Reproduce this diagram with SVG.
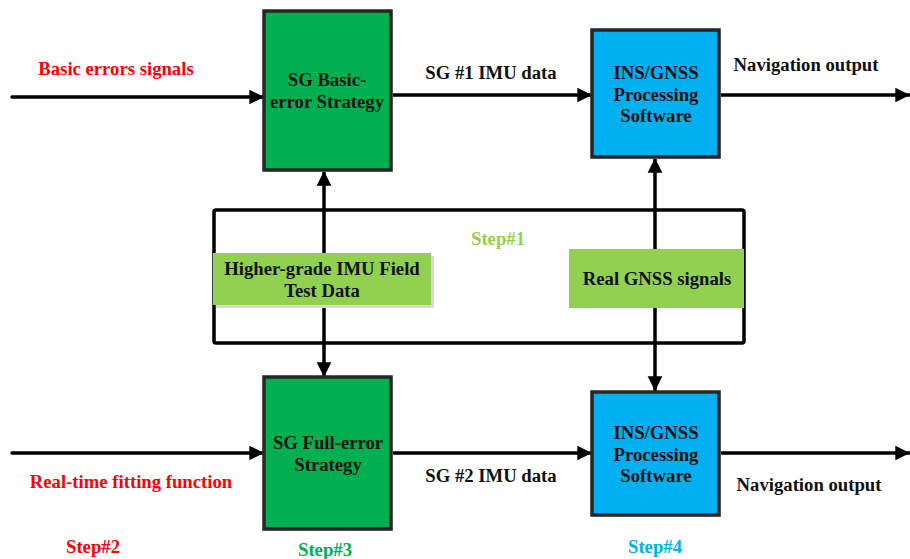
<svg xmlns="http://www.w3.org/2000/svg" width="910" height="559" viewBox="0 0 910 559">
  <style>
    text { font-family: "Liberation Serif", "Times New Roman", serif; font-weight: bold; font-size: 18.7px; }
    .c { text-anchor: middle; }
    .red { fill: #FF0000; }
    .dark { fill: #111111; }
    .box { stroke: #262626; stroke-width: 3.5; }
    .shadow { fill: #d9d9d9; }
    .wire { stroke: #000; stroke-width: 3.5; fill: none; stroke-linecap: round; }
  </style>
  <defs>
    <marker id="arrow" viewBox="0 0 10 10" refX="10" refY="5" markerWidth="4.2" markerHeight="4.6" orient="auto" markerUnits="strokeWidth">
      <path d="M0,0 L10,5 L0,10 Z" fill="#000"/>
    </marker>
  </defs>
  <rect width="910" height="559" fill="#ffffff"/>

  <!-- step 1 frame -->
  <g id="step1-frame">
    <rect x="214" y="210" width="530" height="133" rx="2" fill="none" stroke="#000" stroke-width="3.5"/>
    <text x="498" y="245" class="c" fill="#92D050">Step#1</text>
  </g>

  <!-- connectors -->
  <g id="connectors">
    <line class="wire" x1="12" y1="97" x2="264" y2="97" marker-end="url(#arrow)"/>
    <line class="wire" x1="391" y1="95" x2="592" y2="95" marker-end="url(#arrow)"/>
    <line class="wire" x1="719" y1="95" x2="910" y2="95" marker-end="url(#arrow)"/>
    <line class="wire" x1="12" y1="453" x2="264" y2="453" marker-end="url(#arrow)"/>
    <line class="wire" x1="391" y1="453" x2="592" y2="453" marker-end="url(#arrow)"/>
    <line class="wire" x1="719" y1="453" x2="910" y2="453" marker-end="url(#arrow)"/>
    <line class="wire" x1="324" y1="279" x2="324" y2="171" marker-end="url(#arrow)"/>
    <line class="wire" x1="324" y1="279" x2="324" y2="377" marker-end="url(#arrow)"/>
    <line class="wire" x1="655" y1="279" x2="655" y2="158" marker-end="url(#arrow)"/>
    <line class="wire" x1="655" y1="279" x2="655" y2="391" marker-end="url(#arrow)"/>
  </g>

  <!-- edge labels -->
  <g id="labels">
    <text x="116" y="75" class="c red">Basic errors signals</text>
    <text x="491" y="79" class="c dark">SG #1 IMU data</text>
    <text x="806" y="71" class="c dark">Navigation output</text>
    <text x="131" y="488" class="c red">Real-time fitting function</text>
    <text x="491" y="482" class="c dark">SG #2 IMU data</text>
    <text x="809" y="491" class="c dark">Navigation output</text>
    <text x="93" y="553" class="c red">Step#2</text>
    <text x="325" y="556" class="c" fill="#00B050">Step#3</text>
    <text x="655" y="553" class="c" fill="#00B0F0">Step#4</text>
  </g>

  <!-- data sources -->
  <g id="imu-field-data">
    <rect x="216" y="256" width="218" height="52" class="shadow"/>
    <rect x="213" y="253" width="218" height="52" fill="#92D050"/>
    <text x="322" y="275" class="c dark">Higher-grade IMU Field</text>
    <text x="322" y="297" class="c dark">Test Data</text>
  </g>
  <g id="real-gnss">
    <rect x="569" y="249" width="175" height="59" fill="#92D050"/>
    <text x="657" y="285" class="c dark">Real GNSS signals</text>
  </g>

  <!-- strategy blocks -->
  <g id="sg-basic">
    <rect x="266" y="13" width="127" height="159" class="shadow"/>
    <rect x="264" y="11" width="127" height="159" fill="#00B050" class="box"/>
    <text x="327" y="86" class="c dark">SG Basic-</text>
    <text x="327" y="108" class="c dark">error Strategy</text>
  </g>
  <g id="sg-full">
    <rect x="266" y="379" width="127" height="152" class="shadow"/>
    <rect x="264" y="377" width="127" height="152" fill="#00B050" class="box"/>
    <text x="328" y="449" class="c dark">SG Full-error</text>
    <text x="328" y="471" class="c dark">Strategy</text>
  </g>

  <!-- processing blocks -->
  <g id="ins-gnss-1">
    <rect x="594" y="32" width="127" height="127" class="shadow"/>
    <rect x="592" y="30" width="127" height="127" fill="#00B0F0" class="box"/>
    <text x="656" y="79" class="c dark">INS/GNSS</text>
    <text x="656" y="101" class="c dark">Processing</text>
    <text x="656" y="122" class="c dark">Software</text>
  </g>
  <g id="ins-gnss-2">
    <rect x="594" y="394" width="127" height="123" class="shadow"/>
    <rect x="592" y="392" width="127" height="123" fill="#00B0F0" class="box"/>
    <text x="656" y="439" class="c dark">INS/GNSS</text>
    <text x="656" y="461" class="c dark">Processing</text>
    <text x="656" y="482" class="c dark">Software</text>
  </g>
</svg>
